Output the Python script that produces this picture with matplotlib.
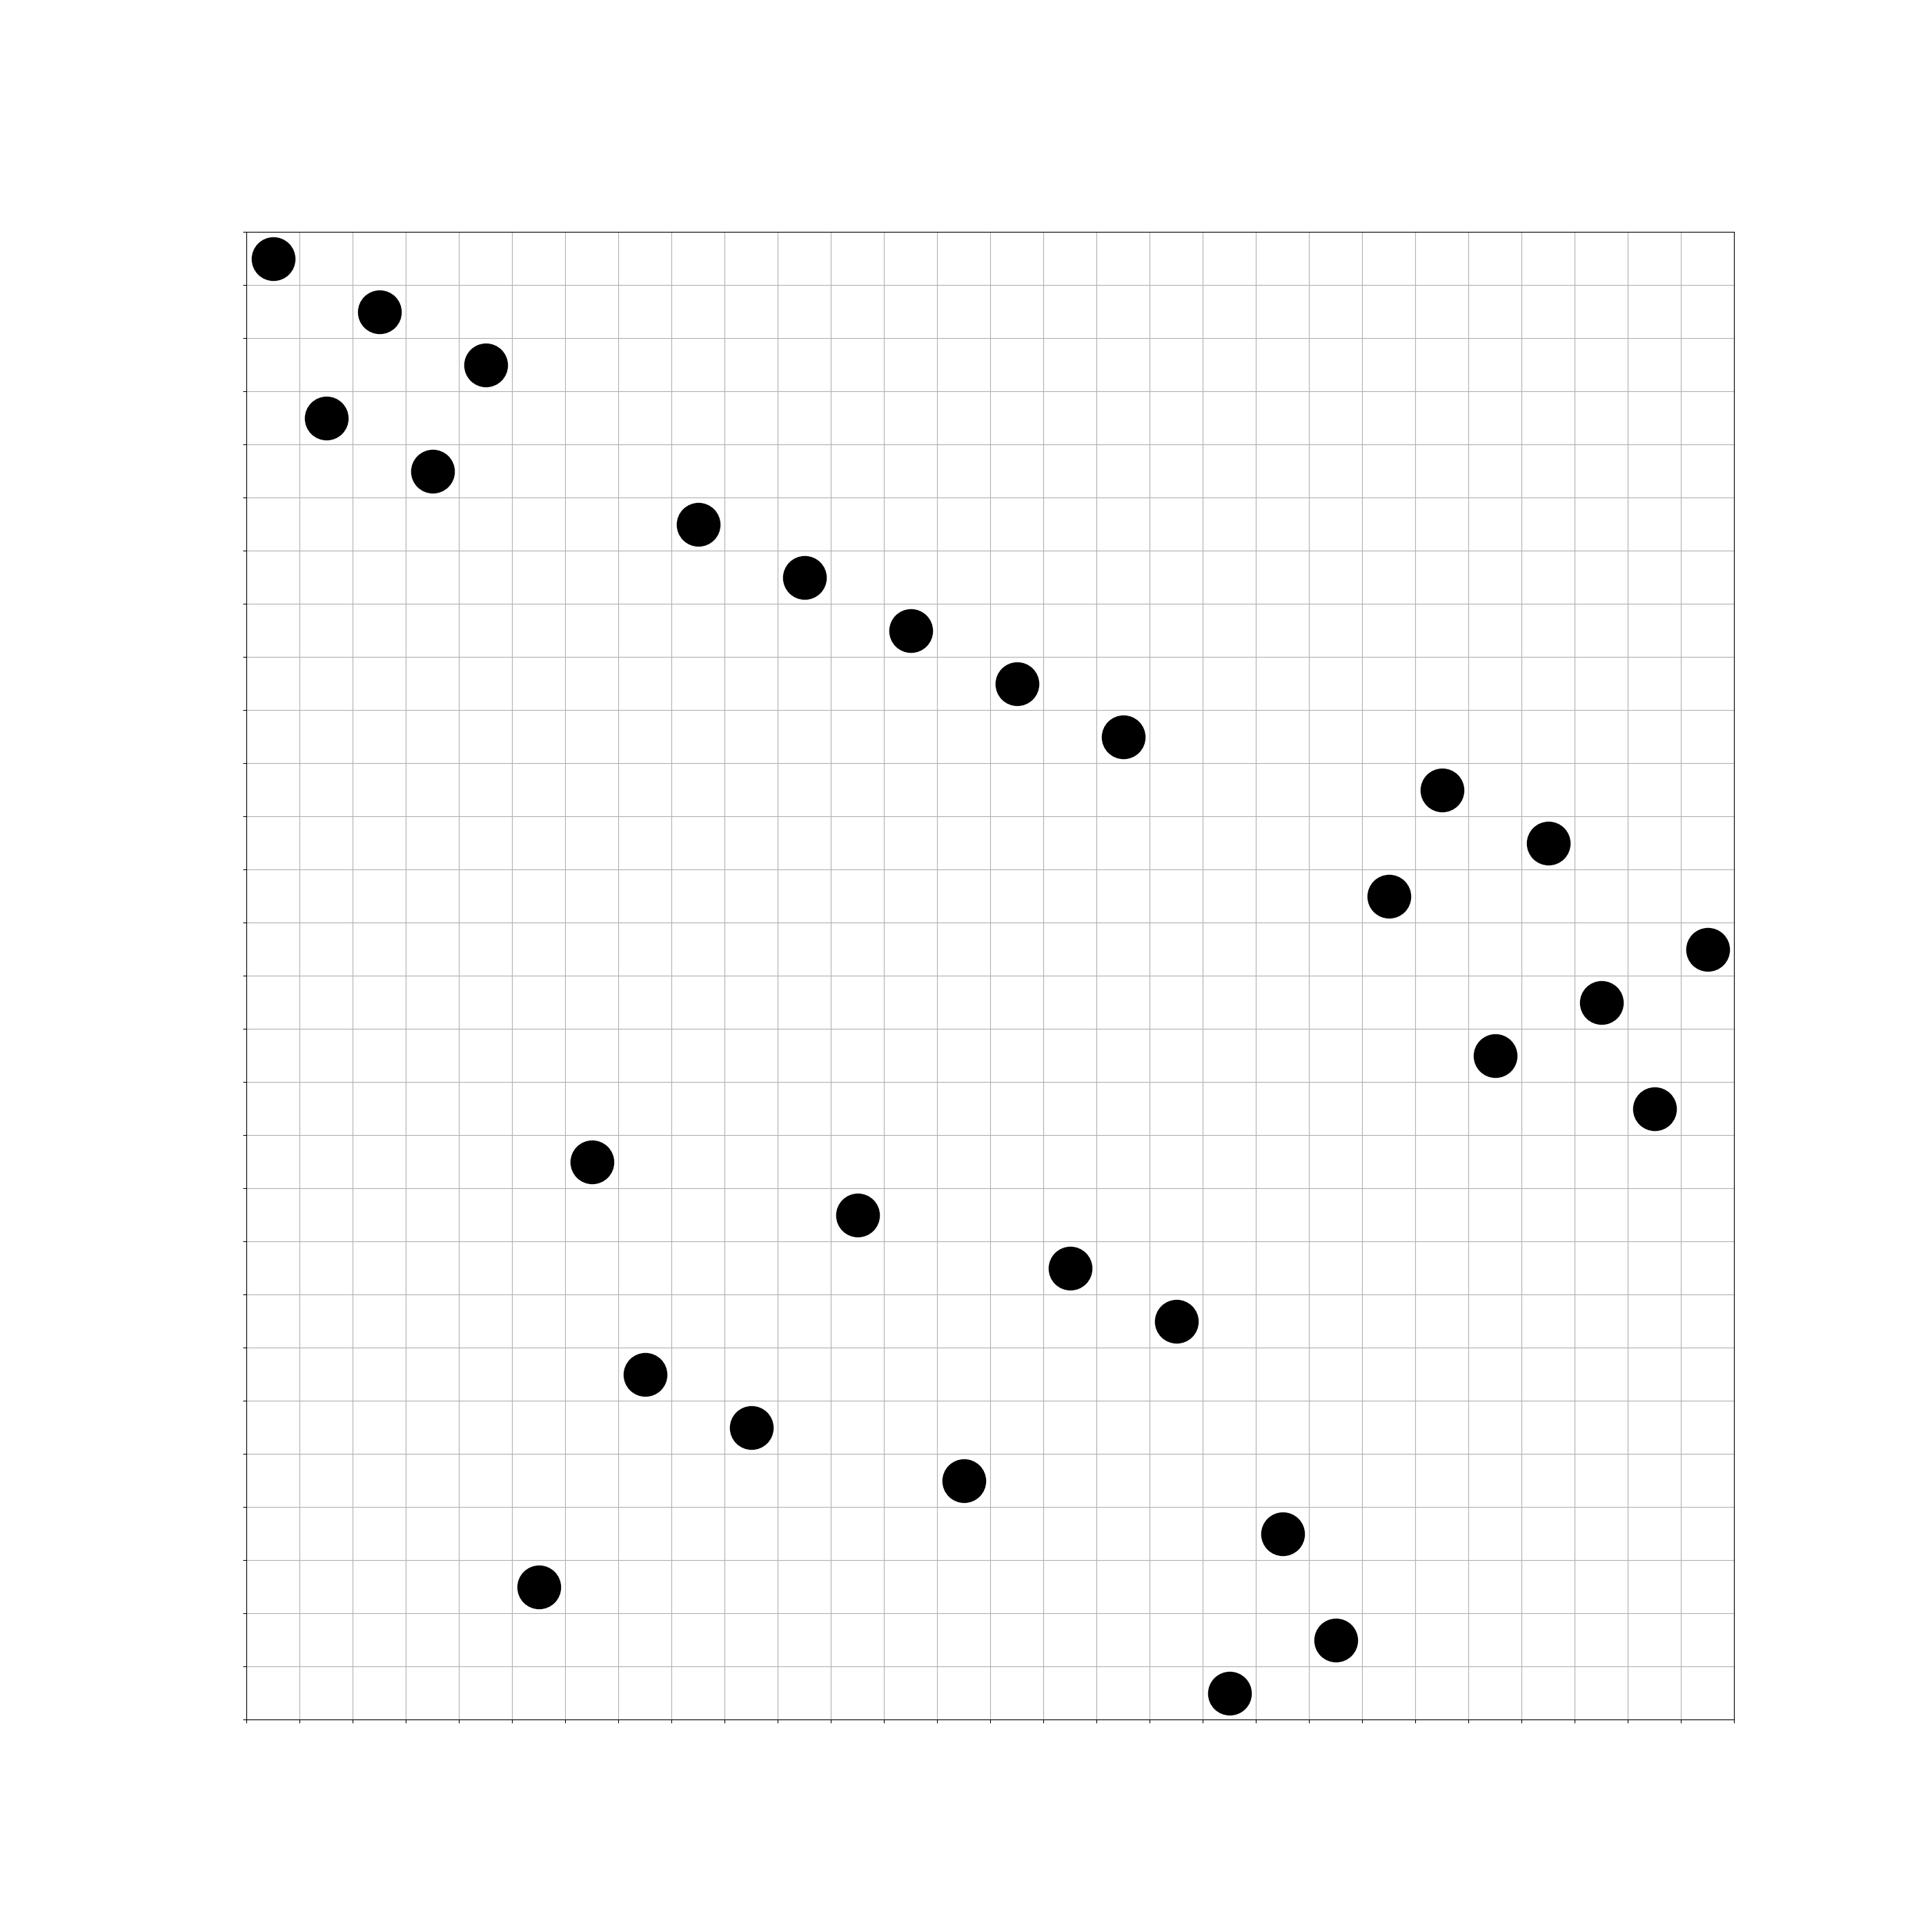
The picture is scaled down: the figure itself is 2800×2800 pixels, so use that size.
import matplotlib
matplotlib.use('Agg')
import matplotlib.pyplot as plt

N = 28

# column index -> row index (counted from the top)
cols = list(range(N))
rows = [0, 3, 1, 4, 2, 25, 17, 21, 5, 22, 6, 18, 7, 23,
        8, 19, 9, 20, 27, 24, 26, 12, 10, 15, 11, 14, 16, 13]


fig = plt.figure(figsize=(28, 28), dpi=100)
ax = fig.add_subplot(111)

ax.scatter([c + 0.5 for c in cols], [r + 0.5 for r in rows],
           s=2000, c='black', zorder=3)

ax.set_xlim(0, N)
ax.set_ylim(N, 0)
ax.set_xticks(range(N + 1))
ax.set_yticks(range(N + 1))
ax.set_xticklabels([])
ax.set_yticklabels([])
ax.grid(True)
ax.set_axisbelow(True)
ax.set_aspect('equal')

fig.savefig('out.png', dpi=100)
